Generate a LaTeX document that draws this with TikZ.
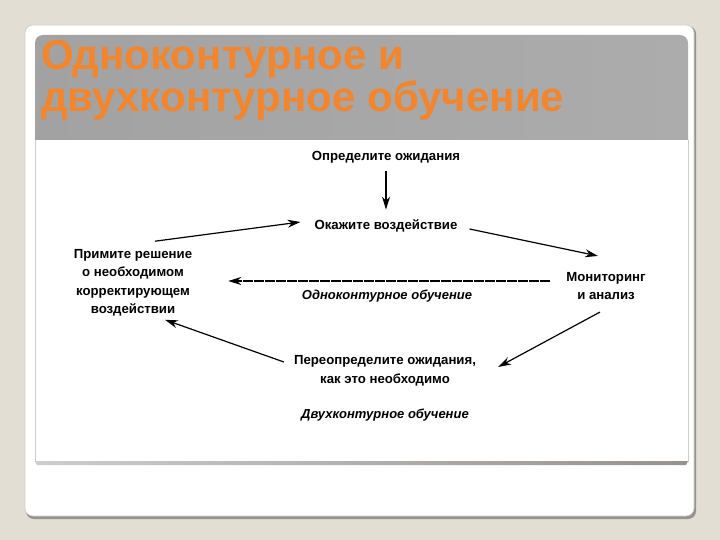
\documentclass[tikz,border=0pt]{standalone}
\usepackage{fontspec}
\setmainfont{Liberation Sans}
\usetikzlibrary{arrows.meta,calc}
\definecolor{bgbeige}{RGB}{227,222,212}
\definecolor{titleorange}{RGB}{242,134,46}
\definecolor{bandA}{RGB}{162,162,162}
\definecolor{bandB}{RGB}{204,204,204}
\definecolor{bandC}{RGB}{172,172,172}
\definecolor{edgegray}{RGB}{150,146,142}
\definecolor{lightedge}{RGB}{205,205,205}
\tikzset{
  lbl/.style={font=\fontsize{13.2}{18.5}\selectfont\bfseries, align=center, inner sep=2pt},
  ital/.style={font=\fontsize{13}{18.5}\selectfont\bfseries\itshape, align=center, inner sep=2pt},
  arr/.style={-{Stealth[length=13pt,width=8pt]}, line width=1.2pt, black},
  dasharr/.style={arr, dash pattern=on 10pt off 1pt, line width=1.5pt},
  ttl/.style={font=\fontsize{42}{44}\selectfont\bfseries, anchor=base west, inner sep=0pt},
}
\begin{document}
\begin{tikzpicture}[x=1pt,y=-1pt]
\useasboundingbox (0,0) rectangle (720,540);
\fill[bgbeige] (0,0) rectangle (720,540);
% card
\fill[edgegray, rounded corners=8] (26,26) rectangle (696,519);
\fill[white, draw=lightedge, line width=0.6pt, rounded corners=8] (25,25) rectangle (694,516);
% inner region
\draw[lightedge, line width=0.8pt] (35,140) -- (35,462);
\draw[lightedge, line width=0.8pt] (688,140) -- (688,462);
\shade[left color=lightedge, right color=edgegray] (35,461) -- (688,461) -- (686,465) -- (37,465) -- cycle;
% title band
\begin{scope}
\clip (0,0) rectangle (720,140);
\shade[left color=bandA, middle color=bandB, right color=bandC, rounded corners=8] (35,35) rectangle (688,170);
\end{scope}
% title
\node[ttl, text=titleorange] (t1) at (41,70) {Одноконтурное и};
\node[ttl, text=titleorange] (t2) at (41,112) {двухконтурное обучение};
% diagram
\node[lbl] (expect) at (386,157) {Определите ожидания};
\node[lbl] (act) at (386,226) {Окажите воздействие};
\node[lbl] (monitor) at (606,286) {Мониторинг\\и анализ};
\node[lbl] (redefine) at (385,371) {Переопределите ожидания,\\как это необходимо};
\node[lbl] (decide) at (133,283) {Примите решение\\о необходимом\\корректирующем\\воздействии};
\node[ital] (single) at (387,296) {Одноконтурное обучение};
\node[ital] (double) at (385,415) {Двухконтурное обучение};
\draw[arr] ($(expect.south)+(0,6)$) -- ($(act.north)+(0,-8)$);
\draw[arr] ($(decide.north)+(22,-6)$) -- ($(act.west)+(-12,-4)$);
\draw[arr] ($(act.east)+(10,3)$) -- ($(monitor.north)+(-8,-14)$);
\draw[arr] ($(monitor.south)+(-6,10)$) -- ($(redefine.east)+(20,-4)$);
\draw[arr] ($(redefine.west)+(-8,-9)$) -- ($(decide.south)+(32,1)$);
\draw[dasharr] ($(monitor.west)+(-14,-5)$) -- ($(decide.east)+(34,-2)$);
\end{tikzpicture}
\end{document}
